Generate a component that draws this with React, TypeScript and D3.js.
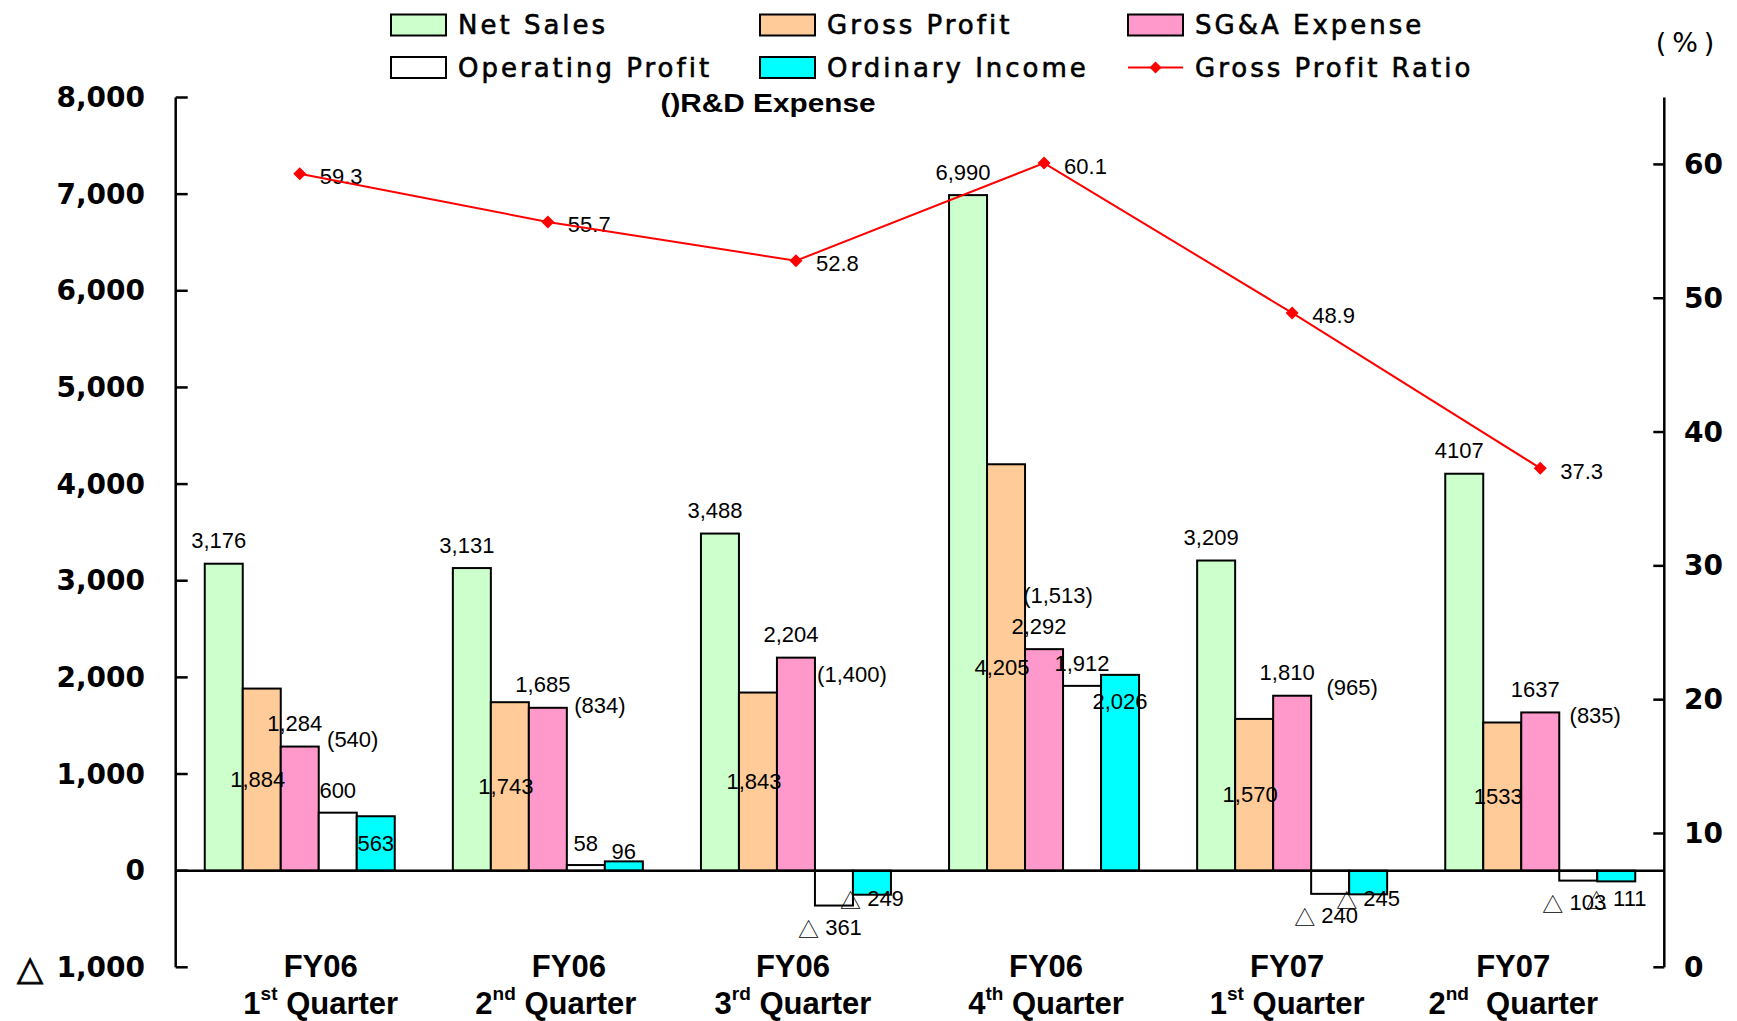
import React from "react";
import * as d3 from "d3";

// ---------- data ----------
const fiscalYears = ["FY06", "FY06", "FY06", "FY06", "FY07", "FY07"];
const quarterNums = ["1", "2", "3", "4", "1", "2"];
const quarterSuffix = ["st", "nd", "rd", "th", "st", "nd"];
const netSales = [3176, 3131, 3488, 6990, 3209, 4107];
const grossProfit = [1884, 1743, 1843, 4205, 1570, 1533];
const sgaExpense = [1284, 1685, 2204, 2292, 1810, 1637];
const operatingProfit = [600, 58, -361, 1912, -240, -103];
const ordinaryIncome = [563, 96, -249, 2026, -245, -111];
const rdExpense = [540, 834, 1400, 1513, 965, 835];
const grossProfitRatio = [59.3, 55.7, 52.8, 60.1, 48.9, 37.3];
const useThousandsSep = [true, true, true, true, true, false];

const seriesNames = ["Net Sales", "Gross Profit", "SG&A Expense", "Operating Profit", "Ordinary Income"];
const seriesColors = ["#ccffcc", "#ffcc99", "#ff99cc", "#ffffff", "#00ffff"];

// ---------- layout ----------
const W = 1737, H = 1021;
const X0 = 175.7, X1 = 1664.3, YT = 97.5, YB = 967.3;
const BAR_W = 38;
const xLabelShiftFY = [21, 21, -3, 2, -5, -27];
const xLabelShiftQ = [21, 8, -3, 2, -5, -27];
const rdDx = [53, 52, 56, 14, 60, 55];
const rdDy = [-7, -2, 17, -54, -8, 3];

const LABEL_FONT = "'Liberation Sans', Arial, sans-serif";
const AXIS_FONT = "'DejaVu Sans', sans-serif";

export default function App() {
  const groups = d3.range(fiscalYears.length);
  const x = d3.scaleBand<number>().domain(groups).range([X0, X1]).padding(0);
  const inner = d3
    .scaleBand<number>()
    .domain(d3.range(5))
    .range([(x.bandwidth() - 5 * BAR_W) / 2, (x.bandwidth() + 5 * BAR_W) / 2]);
  const yL = d3.scaleLinear().domain([-1000, 8000]).range([YB, YT]);
  const yR = d3.scaleLinear().domain([0, 65]).range([YB, YT]);
  const y0 = yL(0);

  const series = [netSales, grossProfit, sgaExpense, operatingProfit, ordinaryIncome];

  const fmt = (v: number, i: number) =>
    useThousandsSep[i] ? d3.format(",")(Math.abs(v)) : String(Math.abs(v));
  const tri = "\u25B3";
  const cx = (g: number) => (x(g) as number) + x.bandwidth() / 2;
  const bx = (g: number, s: number) => (x(g) as number) + (inner(s) as number);
  const bc = (g: number, s: number) => bx(g, s) + BAR_W / 2;

  const labelEls: React.ReactNode[] = [];
  const txt = (key: string, tx: number, ty: number, content: React.ReactNode, anchor = "middle") =>
    labelEls.push(
      <text key={key} x={tx} y={ty} textAnchor={anchor} dominantBaseline="central" fontFamily={LABEL_FONT} fontSize={22} fill="#000">
        {content}
      </text>
    );
  const neg = (v: number, i: number) => (
    <>
      <tspan fontFamily="'Noto Sans CJK JP', sans-serif" fontSize={21}>{tri}</tspan>
      {" " + fmt(v, i)}
    </>
  );

  groups.forEach((g) => {
    txt(`ns${g}`, bc(g, 0) - 5, yL(netSales[g]) - 23, fmt(netSales[g], g));
    txt(`gp${g}`, bc(g, 1) - 4, (yL(grossProfit[g]) + y0) / 2, fmt(grossProfit[g], g));
    txt(`sg${g}`, bc(g, 2) - 5, yL(sgaExpense[g]) - 23, fmt(sgaExpense[g], g));
    txt(`rd${g}`, cx(g) + rdDx[g], yL(sgaExpense[g]) + rdDy[g], `(${fmt(rdExpense[g], g)})`);
    const op = operatingProfit[g];
    if (op >= 0) txt(`op${g}`, bc(g, 3), yL(op) - 22, fmt(op, g));
    else txt(`op${g}`, bc(g, 3) - 4, yL(op) + 22, neg(op, g));
    const oi = ordinaryIncome[g];
    if (oi >= 0) {
      const h = y0 - yL(oi);
      txt(`oi${g}`, bc(g, 4), h > 40 ? yL(oi) + 27 : yL(oi) - 10, fmt(oi, g));
    } else {
      txt(`oi${g}`, bc(g, 4), y0 + 28, neg(oi, g));
    }
    txt(`gr${g}`, cx(g) + 20, yR(grossProfitRatio[g]) + 3, d3.format(".1f")(grossProfitRatio[g]), "start");
  });

  const line = d3
    .line<number>()
    .x((_, i) => cx(i))
    .y((d) => yR(d));

  const diamond = (px: number, py: number, r = 6, key?: string) => (
    <path key={key} d={`M${px},${py - r}L${px + r},${py}L${px},${py + r}L${px - r},${py}Z`} fill="#ff0000" />
  );

  const legendCols = [391, 760, 1128];
  const legendRows = [25, 67.5];
  const legendItems = [
    { name: seriesNames[0], color: seriesColors[0], col: 0, row: 0 },
    { name: seriesNames[1], color: seriesColors[1], col: 1, row: 0 },
    { name: seriesNames[2], color: seriesColors[2], col: 2, row: 0 },
    { name: seriesNames[3], color: seriesColors[3], col: 0, row: 1 },
    { name: seriesNames[4], color: seriesColors[4], col: 1, row: 1 },
  ];

  const legendText = (key: string, lx: number, ly: number, s: string) => (
    <text key={key} x={lx} y={ly} dominantBaseline="central" fontFamily={AXIS_FONT} fontSize={26} letterSpacing={3} fill="#000" stroke="#000" strokeWidth={0.6}>
      {s}
    </text>
  );

  return (
    <div style={{ position: "absolute", left: 0, top: 0 }}>
      <svg width={W} height={H} style={{ display: "block", background: "#fff" }}>
        <rect width={W} height={H} fill="#fff" />
        {series.map((vals, s) =>
          vals.map((v, g) => (
            <rect
              key={`b${s}-${g}`}
              x={bx(g, s)}
              y={Math.min(yL(v), y0)}
              width={BAR_W}
              height={Math.abs(yL(v) - y0)}
              fill={seriesColors[s]}
              stroke="#000"
              strokeWidth={2}
            />
          ))
        )}
        <line x1={X0} x2={X1} y1={y0} y2={y0} stroke="#000" strokeWidth={2.5} />
        {/* left axis */}
        <line x1={X0} x2={X0} y1={YT} y2={YB} stroke="#000" strokeWidth={2.5} />
        {yL.ticks(9).map((t) => (
          <g key={`lt${t}`}>
            <line x1={X0} x2={X0 + 12} y1={yL(t)} y2={yL(t)} stroke="#000" strokeWidth={2.5} />
            <text x={145} y={yL(t)} textAnchor="end" dominantBaseline="central" fontFamily={AXIS_FONT} fontWeight="bold" fontSize={28} fill="#000">
              {t < 0 ? d3.format(",")(-t) : d3.format(",")(t)}
            </text>
            {t < 0 && (
              <text x={30} y={yL(t) + 1} textAnchor="middle" dominantBaseline="central" fontFamily={AXIS_FONT} fontSize={34} fill="#000" stroke="#000" strokeWidth={0.8}>
                {tri}
              </text>
            )}
          </g>
        ))}
        {/* right axis */}
        <line x1={X1} x2={X1} y1={YT} y2={YB} stroke="#000" strokeWidth={2.5} />
        {yR.ticks(7).map((t) => (
          <g key={`rt${t}`}>
            <line x1={X1 - 11} x2={X1} y1={yR(t)} y2={yR(t)} stroke="#000" strokeWidth={2.5} />
            <text x={1684} y={yR(t)} dominantBaseline="central" fontFamily={AXIS_FONT} fontWeight="bold" fontSize={28} fill="#000">
              {t}
            </text>
          </g>
        ))}
        <text x={1688} y={42} textAnchor="middle" dominantBaseline="central" fontFamily={AXIS_FONT} fontSize={27} letterSpacing={6} fill="#000">
          {"(%)"}
        </text>
        {/* x labels */}
        {groups.map((g) => (
          <g key={`xl${g}`} fontFamily={LABEL_FONT} fontWeight="bold" fontSize={31} fill="#000">
            <text x={cx(g) + xLabelShiftFY[g]} y={966} textAnchor="middle" dominantBaseline="central">
              {fiscalYears[g]}
            </text>
            <text x={cx(g) + xLabelShiftQ[g]} y={1003} textAnchor="middle" dominantBaseline="central">
              {quarterNums[g]}
              <tspan fontSize={19} dy={-10}>{quarterSuffix[g]}</tspan>
              <tspan dy={10}>{(g === 5 ? "\u00A0\u00A0" : "\u00A0") + "Quarter"}</tspan>
            </text>
          </g>
        ))}
        {labelEls}
        {/* ratio line */}
        <path d={line(grossProfitRatio) || ""} fill="none" stroke="#ff0000" strokeWidth={2} />
        {grossProfitRatio.map((v, i) => diamond(cx(i), yR(v), 6.5, `dm${i}`))}
        {/* legend */}
        {legendItems.map((it) => (
          <g key={it.name}>
            <rect x={legendCols[it.col]} y={legendRows[it.row] - 10.5} width={55} height={21} fill={it.color} stroke="#000" strokeWidth={2} />
            {legendText(`lt-${it.name}`, legendCols[it.col] + 67, legendRows[it.row], it.name)}
          </g>
        ))}
        <line x1={legendCols[2]} x2={legendCols[2] + 55} y1={legendRows[1]} y2={legendRows[1]} stroke="#ff0000" strokeWidth={2} />
        {diamond(legendCols[2] + 27.5, legendRows[1], 6)}
        {legendText("lt-ratio", legendCols[2] + 67, legendRows[1], "Gross Profit Ratio")}
        <text x={768} y={103} textAnchor="middle" dominantBaseline="central" fontFamily={LABEL_FONT} fontWeight="bold" fontSize={26} textLength={215} lengthAdjust="spacingAndGlyphs" fill="#000">
          ()R&amp;D Expense
        </text>
      </svg>
    </div>
  );
}
